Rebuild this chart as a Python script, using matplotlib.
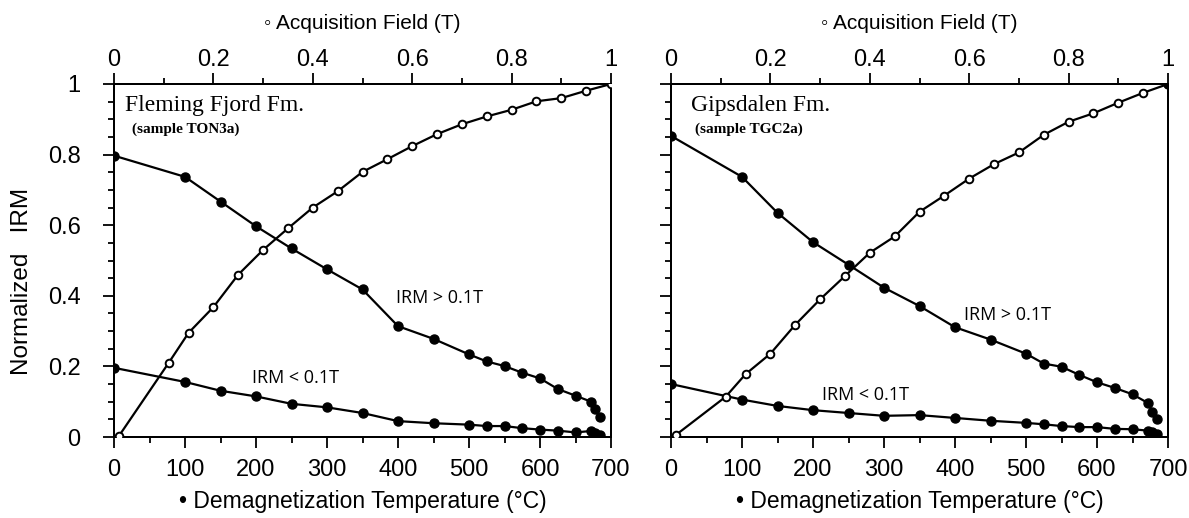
import matplotlib
matplotlib.use("Agg")
import matplotlib.pyplot as plt
from matplotlib.ticker import MultipleLocator

# demagnetization temperatures (same steps for both samples)
temps = [0, 100, 150, 200, 250, 300, 350, 400, 450, 500, 525, 550, 575, 600, 625, 650, 672, 678, 684]
# acquisition fields (T)
fields = [0.01, 0.11, 0.15, 0.2, 0.25, 0.3, 0.35, 0.4, 0.45, 0.5,
          0.55, 0.6, 0.65, 0.7, 0.75, 0.8, 0.85, 0.9, 0.95, 1.0]

# Fleming Fjord Fm. (TON3a)
ff_hard = [0.797, 0.737, 0.667, 0.597, 0.534, 0.475, 0.418, 0.314, 0.278, 0.234,
           0.214, 0.201, 0.182, 0.166, 0.136, 0.117, 0.100, 0.078, 0.056]
ff_soft = [0.196, 0.156, 0.131, 0.115, 0.094, 0.084, 0.068, 0.045, 0.039, 0.035,
           0.031, 0.031, 0.025, 0.021, 0.018, 0.013, 0.017, 0.010, 0.005]
ff_acq = [0.003, 0.21, 0.295, 0.368, 0.46, 0.53, 0.591, 0.65, 0.696, 0.751,
          0.787, 0.824, 0.858, 0.886, 0.908, 0.927, 0.951, 0.960, 0.981, 1.0]

# Gipsdalen Fm. (TGC2a)
gd_hard = [0.853, 0.737, 0.635, 0.552, 0.488, 0.423, 0.371, 0.311, 0.276, 0.236,
           0.208, 0.199, 0.176, 0.155, 0.139, 0.121, 0.096, 0.071, 0.050]
gd_soft = [0.150, 0.106, 0.088, 0.076, 0.068, 0.060, 0.062, 0.054, 0.046, 0.040,
           0.036, 0.031, 0.028, 0.028, 0.023, 0.022, 0.018, 0.015, 0.008]
gd_acq = [0.006, 0.114, 0.178, 0.236, 0.318, 0.39, 0.456, 0.522, 0.568, 0.638,
          0.684, 0.732, 0.773, 0.806, 0.856, 0.893, 0.917, 0.947, 0.975, 1.0]

panels = [
    ("Fleming Fjord Fm.", "(sample TON3a)", ff_hard, ff_soft, ff_acq, (459, 0.395), (256, 0.167)),
    ("Gipsdalen Fm.", "(sample TGC2a)", gd_hard, gd_soft, gd_acq, (474, 0.345), (274, 0.119)),
]

plt.rcParams['font.family'] = ['Liberation Sans', 'DejaVu Sans']

fig = plt.figure(figsize=(11.89, 5.18), dpi=100)
lefts = [114 / 1189, 671 / 1189]
W = 497 / 1189
B = (518 - 437) / 518
H = 353 / 518

for i, (title, sub, hard, soft, acq, lab1, lab2) in enumerate(panels):
    ax = fig.add_axes([lefts[i], B, W, H])
    ax.plot(temps, hard, '-o', color='black', lw=1.6, ms=6.5, zorder=3)
    ax.plot(temps, soft, '-o', color='black', lw=1.6, ms=6.5, zorder=3)
    ax.set_xlim(0, 700)
    ax.set_ylim(0, 1)
    ax.xaxis.set_major_locator(MultipleLocator(100))
    ax.xaxis.set_minor_locator(MultipleLocator(50))
    ax.yaxis.set_major_locator(MultipleLocator(0.2))
    ax.yaxis.set_minor_locator(MultipleLocator(0.05))
    ax.set_yticks([0, 0.2, 0.4, 0.6, 0.8, 1.0])
    ax.set_yticklabels(['0', '0.2', '0.4', '0.6', '0.8', '1'])
    ax.tick_params(which='both', direction='out', width=1.3, labelsize=17, right=False, top=False)
    ax.tick_params(which='major', length=8)
    ax.tick_params(which='minor', length=4.5)
    ax.tick_params(axis='x', which='major', pad=8)
    ax.tick_params(axis='y', which='major', pad=16)
    if i == 1:
        ax.tick_params(axis='y', labelleft=False)
    ax.set_xlabel('\u2022 Demagnetization Temperature (\u00b0C)', fontsize=16.5, labelpad=6)
    for s in ax.spines.values():
        s.set_linewidth(1.4)

    ax2 = ax.twiny()
    ax2.plot(fields, acq, '-o', color='black', lw=1.6, ms=5.5, mfc='white', mew=1.4, zorder=3)
    if i == 1:
        ax2.plot(fields[-1:], acq[-1:], 'o', color='black', ms=6.5, zorder=4)
    ax2.set_xlim(0, 1)
    ax2.xaxis.set_major_locator(MultipleLocator(0.2))
    ax2.xaxis.set_minor_locator(MultipleLocator(0.1))
    ax2.set_xticks([0, 0.2, 0.4, 0.6, 0.8, 1.0])
    ax2.set_xticklabels(['0', '0.2', '0.4', '0.6', '0.8', '1'])
    ax2.tick_params(which='both', direction='out', width=1.3, labelsize=17)
    ax2.tick_params(which='major', length=8, pad=1)
    ax2.tick_params(which='minor', length=4.5)
    ax2.set_xlabel('\u25e6 Acquisition Field (T)', fontsize=15, labelpad=15)
    for s in ax2.spines.values():
        s.set_linewidth(1.4)

    ax.text(0.022 if i == 0 else 0.040, 0.94, title, transform=ax.transAxes,
            family=['Liberation Serif'], fontsize=17, va='center', ha='left')
    ax.text(0.036 if i == 0 else 0.048, 0.872, sub, transform=ax.transAxes,
            family=['Liberation Serif'], fontweight='bold', fontsize=11, va='center', ha='left')
    ax.text(lab1[0], lab1[1], 'IRM > 0.1T', family=['Open Sans'], fontsize=13,
            ha='center', va='center')
    ax.text(lab2[0], lab2[1], 'IRM < 0.1T', family=['Open Sans'], fontsize=13,
            ha='center', va='center')

fig.text(22 / 1189, 1 - 281 / 518, 'Normalized   IRM', rotation=90, fontsize=17.5,
         ha='center', va='center')

fig.savefig('out.png', dpi=100)
